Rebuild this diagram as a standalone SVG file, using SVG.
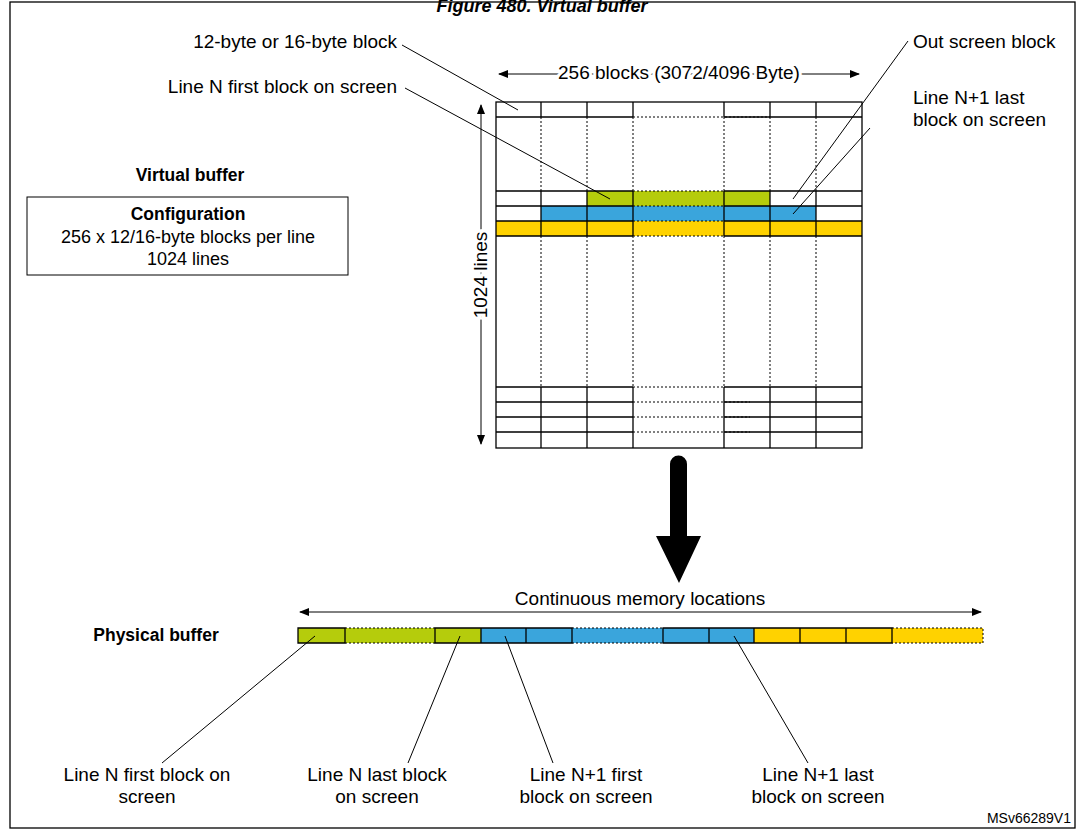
<svg xmlns="http://www.w3.org/2000/svg" width="1084" height="831" viewBox="0 0 1084 831">
<style>
text{font-family:"Liberation Sans",Arial,sans-serif;font-size:19px;fill:#000}
.c{text-anchor:middle}
.b{font-weight:bold;font-size:17.5px}
.g{stroke:#000;stroke-width:1.3;fill:none}
.d{stroke:#000;stroke-width:1;stroke-dasharray:2,2;fill:none}
.l{stroke:#000;stroke-width:1;fill:none}
.G{fill:#b5cc0c}.B{fill:#3aa5dc}.Y{fill:#ffd200}
</style>
<defs>
<marker id="a" markerWidth="10" markerHeight="8" refX="9" refY="4" orient="auto-start-reverse" markerUnits="userSpaceOnUse"><path d="M0,0L10,4L0,8z"/></marker>
</defs>
<rect width="1084" height="831" fill="#fff"/>
<text x="542" y="12" class="c" style="font-weight:bold;font-style:italic;font-size:18px">Figure 480. Virtual buffer</text>
<rect x="10" y="2" width="1065" height="826" fill="none" stroke="#000" stroke-width="1.3"/>
<g id="virtual-label"><text x="190" y="181" class="c b">Virtual buffer</text></g>
<g id="config"><rect x="27" y="197" width="321" height="78" fill="#fff" stroke="#000" stroke-width="1"/>
<text x="188" y="220" class="c b">Configuration</text>
<text x="188" y="243" class="c" style="font-size:18px">256 x 12/16-byte blocks per line</text>
<text x="188" y="265" class="c" style="font-size:18px">1024 lines</text></g>
<g id="grid">
<rect x="587" y="191" width="183" height="15" class="G"/>
<rect x="541" y="206" width="275" height="15" class="B"/>
<rect x="496" y="221" width="366" height="15" class="Y"/>
<g class="g">
<rect x="496" y="102" width="366" height="346"/>
<line x1="496" y1="117" x2="633" y2="117"/><line x1="724" y1="117" x2="862" y2="117"/>
<path d="M541,102V117M587,102V117M633,102V117M724,102V117M770,102V117M816,102V117"/>
<path d="M496,191H633M724,191H862M496,206H633M724,206H862M496,221H633M724,221H862M496,236H633M724,236H862"/>
<path d="M541,191V236M587,191V236M633,191V236M724,191V236M770,191V236M816,191V236"/>
<path d="M496,387H633M724,387H862M496,402H633M724,402H862M496,417H633M724,417H862M496,432H633M724,432H862"/>
<path d="M541,387V448M587,387V448M633,387V448M724,387V448M770,387V448M816,387V448"/>
</g>
<g class="d">
<path d="M633,117H770M633,191H724M633,206H724M633,221H724M633,236H724M633,387H724M633,402H750M633,417H750M633,432H750"/>
<path d="M541,117V191M587,117V191M633,117V191M724,117V191M770,117V191M816,117V191"/>
<path d="M541,236V387M587,236V387M633,236V387M724,236V387M770,236V387M816,236V387"/>
</g>
</g>
<g id="dims">
<line x1="499" y1="74" x2="859" y2="74" class="l" marker-start="url(#a)" marker-end="url(#a)"/>
<text x="679" y="79" class="c" style="paint-order:stroke;stroke:#fff;stroke-width:6">256 blocks (3072/4096 Byte)</text>
<line x1="481" y1="105" x2="481" y2="444" class="l" marker-start="url(#a)" marker-end="url(#a)"/>
<text transform="translate(487,275) rotate(-90)" class="c" style="paint-order:stroke;stroke:#fff;stroke-width:6">1024 lines</text>
</g>
<g id="big-arrow"><path d="M670,464a8.5,8.5 0 0 1 17,0V536H701L679,583L656,536H670z" fill="#000"/></g>
<g id="physical-label"><text x="156" y="641" class="c b">Physical buffer</text></g>
<g id="physical">
<line x1="300" y1="612" x2="981" y2="612" class="l" marker-start="url(#a)" marker-end="url(#a)"/>
<text x="640" y="605" class="c">Continuous memory locations</text>
<rect x="298" y="628" width="183" height="15" class="G"/>
<rect x="481" y="628" width="273" height="15" class="B"/>
<rect x="754" y="628" width="229" height="15" class="Y"/>
<path class="g" d="M298,628H345V643H298zM435,628H481V643H435zM481,628H572V643H481zM526,628V643M663,628H754V643H663zM709,628V643M754,628H892V643H754zM800,628V643M846,628V643"/>
<path class="d" d="M345,628H435M345,643H435M572,628H663M572,643H663M892,628H983V643H892"/>
</g>
<g id="leaders" class="l">
<line x1="402" y1="45" x2="518" y2="110"/>
<line x1="405" y1="88" x2="610" y2="199"/>
<line x1="908" y1="41" x2="793" y2="199"/>
<line x1="870" y1="128" x2="793" y2="214"/>
<line x1="315" y1="636" x2="162" y2="763"/>
<line x1="460" y1="636" x2="408" y2="763"/>
<line x1="505" y1="636" x2="553" y2="763"/>
<line x1="734" y1="636" x2="808" y2="763"/>
</g>
<g id="labels">
<text x="397" y="48" style="text-anchor:end">12-byte or 16-byte block</text>
<text x="397" y="93" style="text-anchor:end">Line N first block on screen</text>
<text x="913" y="48">Out screen block</text>
<text x="913" y="104">Line N+1 last</text>
<text x="913" y="126">block on screen</text>
<text x="147" y="781" class="c">Line N first block on</text><text x="147" y="803" class="c">screen</text>
<text x="377" y="781" class="c">Line N last block</text><text x="377" y="803" class="c">on screen</text>
<text x="586" y="781" class="c">Line N+1 first</text><text x="586" y="803" class="c">block on screen</text>
<text x="818" y="781" class="c">Line N+1 last</text><text x="818" y="803" class="c">block on screen</text>
<text x="1071" y="823" style="text-anchor:end;font-size:14px">MSv66289V1</text>
</g>
</svg>
